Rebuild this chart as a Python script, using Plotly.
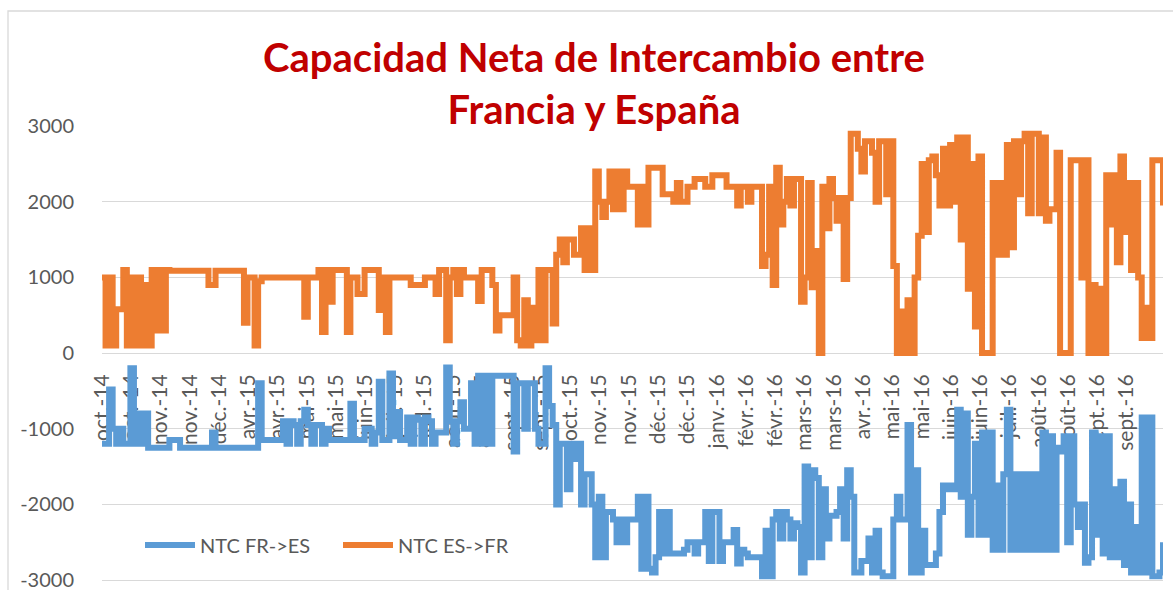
import plotly.graph_objects as go

# Category labels shown on the horizontal axis (every ~8 hourly-sampled points)
month_labels = ["oct.-14", "oct.-14", "nov.-14", "nov.-14", "déc.-14", "avr.-15", "avr.-15",
                "mai-15", "mai-15", "juin-15", "juil.-15", "juil.-15", "août-15", "août-15",
                "sept.-15", "sept.-15", "oct.-15", "nov.-15", "nov.-15", "déc.-15", "déc.-15",
                "janv.-16", "févr.-16", "févr.-16", "mars-16", "mars-16", "avr.-16", "mai-16",
                "mai-16", "juin-16", "juin-16", "juil.-16", "août-16", "août-16", "sept.-16",
                "sept.-16"]

# Value-axis ticks
y_ticks = [-3000, -2000, -1000, 0, 1000, 2000, 3000]

# NTC ES->FR (MW)
ntc_es_fr = [
    1000, 100, 1000, 100, 580, 580, 1100, 100, 1000, 100,
    1000, 100, 900, 100, 1100, 300, 1100, 300, 1100, 1090,
    1090, 1090, 1090, 1090, 1090, 1090, 1090, 1090, 1090, 1090,
    900, 900, 1090, 1090, 1090, 1090, 1090, 1090, 1090, 1090,
    400, 1000, 1000, 100, 950, 1000, 1000, 1000, 1000, 1000,
    1000, 1000, 1000, 1000, 1000, 1000, 1000, 480, 1000, 1000,
    1000, 1100, 280, 1100, 680, 1100, 1100, 1100, 1100, 280,
    1000, 1000, 780, 780, 1100, 1100, 1100, 1100, 570, 1000,
    280, 1000, 1000, 1000, 1000, 1000, 1000, 900, 900, 900,
    900, 1000, 1000, 1000, 780, 1100, 1100, 170, 1000, 1100,
    780, 1100, 1000, 1000, 1000, 1000, 690, 1100, 1100, 1100,
    900, 300, 500, 500, 500, 500, 1000, 170, 100, 700,
    100, 600, 170, 1100, 170, 1100, 1100, 390, 1300, 1500,
    1200, 1500, 1500, 1300, 1300, 1650, 1100, 1650, 1100, 2400,
    2000, 1800, 2000, 2400, 1900, 2400, 1900, 2400, 2200, 2200,
    2200, 1700, 2200, 1700, 2450, 2450, 2450, 2450, 2100, 2100,
    2100, 2000, 2250, 2000, 2000, 2200, 2200, 2300, 2300, 2300,
    2200, 2200, 2350, 2350, 2350, 2350, 2200, 2200, 2200, 1950,
    2200, 2200, 2000, 2200, 2200, 2200, 1150, 1300, 2200, 900,
    2450, 1700, 2000, 2300, 1950, 2300, 2300, 680, 1000, 2250,
    870, 1350, 0, 2200, 1650, 2300, 2050, 1750, 2050, 980,
    2050, 2900, 2900, 2700, 2400, 2800, 2800, 2650, 2000, 2800,
    2800, 2100, 2800, 1150, 0, 550, 0, 700, 0, 1000,
    1550, 2500, 1600, 2550, 2600, 2350, 1950, 2700, 1950, 2750,
    2000, 2850, 1500, 2850, 850, 2500, 350, 2600, 0, 0,
    0, 2250, 1300, 2250, 1300, 2750, 1400, 2800, 2100, 2800,
    2900, 1850, 2900, 2900, 1850, 2850, 1750, 1900, 1900, 2650,
    0, 0, 0, 2550, 2550, 2550, 1000, 2550, 0, 900,
    0, 850, 0, 2350, 1700, 2350, 1200, 2600, 1600, 2250,
    1100, 2250, 1000, 200, 600, 200, 2550, 2550, 2550, 1950,
]

# NTC FR->ES (MW, shown negative)
ntc_fr_es = [
    -1200, -1200, -480, -1000, -1200, -1000, -1200, -1200, -200, -1200,
    -800, -1200, -800, -1250, -1250, -1250, -1250, -1250, -1250, -1150,
    -1150, -1150, -1250, -1250, -1250, -1250, -1250, -1250, -1250, -1250,
    -1250, -1050, -1250, -1250, -1250, -1250, -1250, -1250, -1250, -1250,
    -1250, -1250, -1250, -1250, -400, -1150, -1150, -1150, -1150, -1150,
    -1150, -900, -1200, -900, -950, -1200, -900, -750, -950, -1200,
    -950, -950, -1200, -1000, -1150, -1150, -1150, -1150, -1150, -1150,
    -670, -1150, -1150, -1150, -1000, -1000, -1200, -1050, -380, -1150,
    -1150, -270, -1100, -780, -1150, -1150, -850, -1200, -850, -880,
    -1200, -850, -900, -1200, -1050, -1050, -1050, -190, -900, -1200,
    -900, -650, -1000, -1000, -400, -1200, -300, -1200, -300, -1200,
    -300, -300, -300, -300, -300, -300, -1300, -400, -400, -1000,
    -400, -400, -1000, -1200, -1200, -200, -700, -950, -2000, -1200,
    -1200, -1800, -1200, -1400, -1200, -2000, -1600, -1600, -2000, -2700,
    -1900, -2700, -2100, -2100, -2200, -2500, -2200, -2500, -2200, -2200,
    -2200, -1900, -2850, -1900, -2850, -2900, -2700, -2100, -2650, -2100,
    -2650, -2650, -2650, -2650, -2600, -2500, -2500, -2650, -2500, -2500,
    -2100, -2750, -2100, -2100, -2750, -2500, -2500, -2500, -2340, -2780,
    -2600, -2650, -2700, -2700, -2700, -2700, -2950, -2350, -2950, -2200,
    -2100, -2450, -2100, -2200, -2450, -2250, -2300, -2900, -1500, -2700,
    -1550, -1650, -2700, -1800, -2450, -2150, -2150, -2100, -1800, -2450,
    -1550, -1900, -2900, -2900, -2750, -2750, -2450, -2900, -2350, -2900,
    -2950, -2950, -2950, -2200, -1900, -2200, -2200, -950, -2900, -1550,
    -2900, -2350, -2800, -2800, -2800, -2650, -2100, -1750, -1800, -1750,
    -1800, -750, -1900, -800, -2400, -1900, -1200, -2400, -1050, -2400,
    -1050, -2600, -1750, -2600, -1600, -750, -2600, -1600, -2600, -1600,
    -2600, -1600, -2600, -1600, -2600, -1050, -2600, -1100, -2600, -1250,
    -1300, -1100, -2500, -1100, -2000, -2300, -2000, -2770, -2700, -1050,
    -2400, -1100, -2650, -1100, -2700, -1800, -2700, -1700, -2800, -2000,
    -2900, -2300, -2900, -850, -2900, -850, -2950, -2950, -2900, -2500,
]

series_names = ["NTC FR->ES", "NTC ES->FR"]
series_colors = ["#5B9BD5", "#ED7D31"]

n = len(ntc_es_fr)
x_idx = list(range(n))
label_step = 8.25
tick_positions = [k * label_step for k in range(len(month_labels))]

W, H = 1173, 590
L, R, T, B = 102, 10, 126, 8
pw, ph = W - L - R, H - T - B
y_lo, y_hi = -3026, 3002

fig = go.Figure()
for vals, name, col in zip([ntc_fr_es, ntc_es_fr], series_names, series_colors):
    fig.add_trace(go.Scatter(x=x_idx, y=vals, mode="lines", name=name,
                             line=dict(color=col, width=6, shape="hv")))

grid = "#D9D9D9"
fig.update_layout(
    width=W, height=H,
    margin=dict(l=L, r=R, t=T, b=B, pad=0, autoexpand=False),
    paper_bgcolor="white", plot_bgcolor="white",
    font=dict(family="Lato", size=20, color="#595959"),
    title=dict(text="Capacidad Neta de Intercambio entre<br>Francia y España",
               font=dict(family="Lato", size=40, color="#C00000", weight="bold"),
               x=594 / W, xref="container", xanchor="center",
               y=1 - 72 / H, yref="container", yanchor="top"),
    showlegend=True,
    legend=dict(orientation="h", xref="paper", x=(140 - L) / pw, xanchor="left",
                yref="paper", y=(H - B - 545) / ph, yanchor="middle",
                font=dict(family="Lato", size=20, color="#595959"),
                itemwidth=50, entrywidth=133, entrywidthmode="pixels",
                bgcolor="rgba(0,0,0,0)", itemclick=False),
    xaxis=dict(range=[0, n - 1], tickmode="array", tickvals=tick_positions,
               ticktext=month_labels, tickangle=-90, showgrid=False,
               zeroline=False, showline=False, anchor="free",
               position=(0 - y_lo) / (y_hi - y_lo),
               ticks="", ticklabelstandoff=16, automargin=False,
               layer="below traces", ticklabeloverflow="allow",
               tickfont=dict(family="Lato", size=21, color="#595959")),
    yaxis=dict(range=[y_lo, y_hi], tickmode="array", tickvals=y_ticks,
               ticktext=[str(v) for v in y_ticks], showgrid=True,
               gridcolor=grid, gridwidth=1.3, zeroline=True, zerolinecolor=grid,
               zerolinewidth=1.3, ticks="", ticklabelstandoff=27,
               automargin=False, showline=False, ticklabeloverflow="allow",
               tickfont=dict(family="Lato", size=20, color="#595959")),
    shapes=[dict(type="rect", xref="paper", yref="paper",
                 x0=(8 - L) / pw, x1=(W + 20 - L) / pw,
                 y0=-0.2, y1=(H - B - 11) / ph,
                 line=dict(color=grid, width=1.3), layer="below")],
)

fig.write_html("out.html", config={"displayModeBar": False},
               post_script="document.body.style.margin='0';document.body.style.overflow='hidden';")
